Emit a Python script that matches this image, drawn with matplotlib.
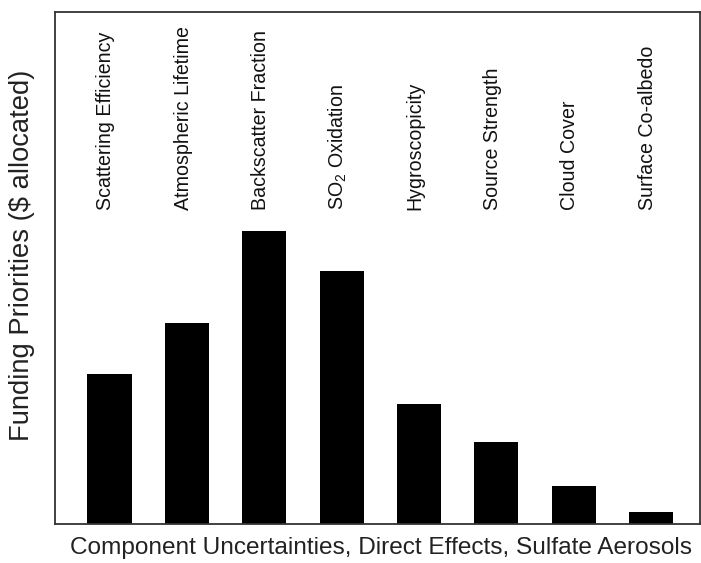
import matplotlib
matplotlib.use("Agg")
import matplotlib.pyplot as plt
import numpy as np

# component uncertainties and their funding priority (relative, axis top = 100)
components = [
    "Scattering Efficiency",
    "Atmospheric Lifetime",
    "Backscatter Fraction",
    "SO$_2$ Oxidation",
    "Hygroscopicity",
    "Source Strength",
    "Cloud Cover",
    "Surface Co-albedo",
]
priority = [29.3, 39.3, 57.2, 49.4, 23.4, 16.0, 7.4, 2.3]

plt.rcParams["font.family"] = ["Liberation Sans", "DejaVu Sans"]
plt.rcParams["mathtext.default"] = "regular"

fig = plt.figure(figsize=(7.01, 5.63), dpi=100)
ax = fig.add_axes([55 / 701, 1 - 524 / 563, 645 / 701, 512 / 563])

x = np.arange(len(components))
ax.bar(x, priority, width=0.57, color="black")

for xi, name in zip(x, components):
    ax.text(xi - 0.05, 61.3, name, rotation=90, ha="center", va="bottom",
            fontsize=14.1, color="#111111")

ax.set_xlim(-0.705, 7.633)
ax.set_ylim(0, 100)
ax.set_xticks([])
ax.set_yticks([])
for side in ["left", "right", "top", "bottom"]:
    ax.spines[side].set_linewidth(1.3)
    ax.spines[side].set_color("#333333")

fig.text(381 / 701, 1 - 548 / 563, "Component Uncertainties, Direct Effects, Sulfate Aerosols",
         ha="center", va="center", fontsize=17.6, color="#222222")
fig.text(22 / 701, 1 - 255 / 563, "Funding Priorities ($ allocated)",
         rotation=90, ha="center", va="center", fontsize=19.7, color="#222222")

fig.savefig("out.png", dpi=100)
